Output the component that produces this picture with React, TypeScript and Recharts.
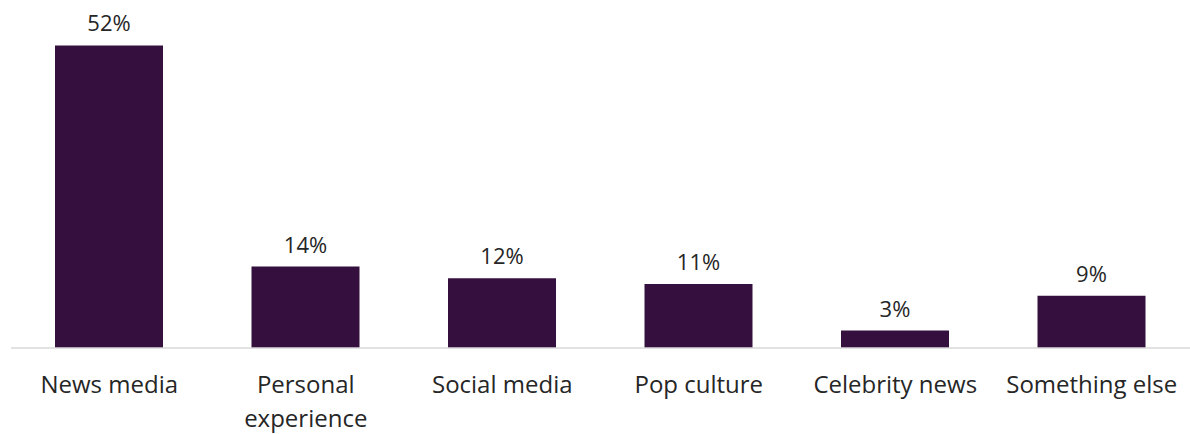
import React from 'react';
import { BarChart, Bar, XAxis, YAxis, LabelList } from 'recharts';

const categories = ['News media', 'Personal experience', 'Social media', 'Pop culture', 'Celebrity news', 'Something else'];
const shares = [52, 14, 12, 11, 3, 9];

const data = categories.map((name, i) => ({ name, value: shares[i] }));

const FONT = '"Open Sans", sans-serif';
const TEXT = '#262626';

// long names go on two lines, like the original
const WrappedTick = (props: any) => {
  const { x, y, payload } = props;
  const label: string = payload.value;
  const lines = label.length > 16 ? [label.slice(0, label.indexOf(' ')), label.slice(label.indexOf(' ') + 1)] : [label];
  return (
    <g>
      {lines.map((line, i) => (
        <text
          key={i}
          x={x}
          y={y + 37 + i * 34}
          textAnchor="middle"
          fill={TEXT}
          fontSize={24}
          fontFamily={FONT}
        >
          {line}
        </text>
      ))}
    </g>
  );
};

export default function App() {
  return (
    <div style={{ position: 'absolute', left: 0, top: 0, background: '#fff' }}>
      <BarChart
        width={1190}
        height={434}
        data={data}
        margin={{ top: 28, right: 0, bottom: 0, left: 11 }}
      >
        <XAxis
          dataKey="name"
          height={86}
          tickLine={false}
          axisLine={{ stroke: '#d9d9d9', strokeWidth: 1.5 }}
          tick={<WrappedTick />}
          interval={0}
        />
        <YAxis hide domain={[0, 55]} />
        <Bar dataKey="value" fill="#35103f" barSize={108} isAnimationActive={false}>
          <LabelList
            dataKey="value"
            position="top"
            offset={14}
            formatter={(v: any) => `${v}%`}
            fill={TEXT}
            fontSize={22}
            fontFamily={FONT}
          />
        </Bar>
      </BarChart>
    </div>
  );
}
